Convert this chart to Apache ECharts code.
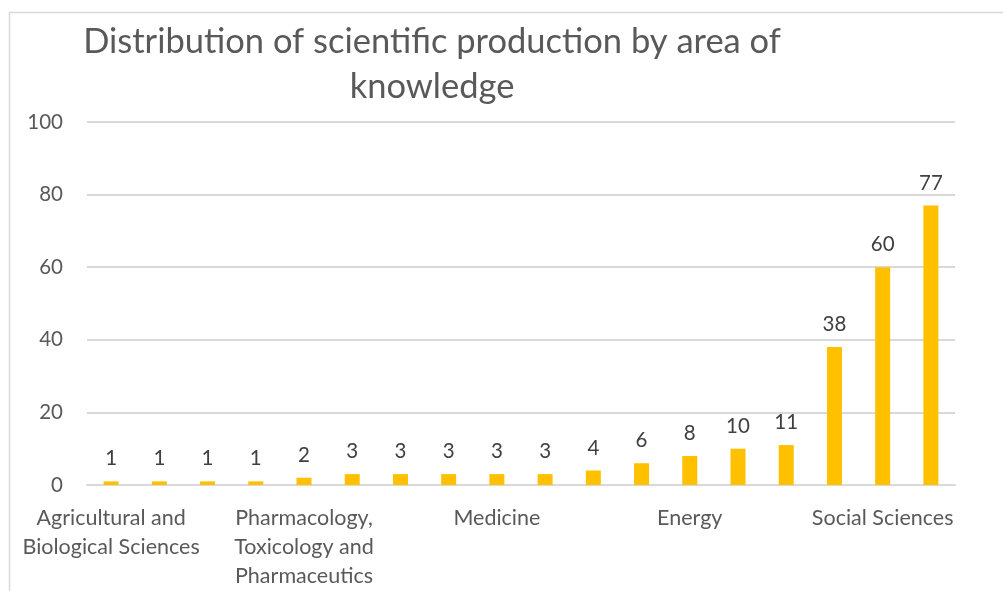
<!DOCTYPE html>
<html>
<head>
<meta charset="utf-8">
<script src="https://cdn.jsdelivr.net/npm/echarts@6/dist/echarts.min.js"></script>
<style>
  html, body { margin: 0; padding: 0; background: #fff; }
  #chart { width: 1003px; height: 591px; }
</style>
</head>
<body>
<div id="chart"></div>
<script>
// areas sorted by number of documents
const areas = [
  'Agricultural and Biological Sciences',
  'Biochemistry, Genetics and Molecular Biology',
  'Chemistry',
  'Earth and Planetary Sciences',
  'Pharmacology, Toxicology and Pharmaceutics',
  'Mathematics',
  'Engineering',
  'Psychology',
  'Medicine',
  'Arts and Humanities',
  'Decision Sciences',
  'Computer Science',
  'Energy',
  'Economics, Econometrics and Finance',
  'Business, Management and Accounting',
  'Environmental Science',
  'Social Sciences',
  'Multidisciplinary',
]
const docs = [1, 1, 1, 1, 2, 3, 3, 3, 3, 3, 4, 6, 8, 10, 11, 38, 60, 77]
const yTicks = { min: 0, max: 100, interval: 20 }

// line breaks as the labels wrap in the original
const wrapped = {
  'Agricultural and Biological Sciences': 'Agricultural and\nBiological Sciences',
  'Pharmacology, Toxicology and Pharmaceutics': 'Pharmacology,\nToxicology and\nPharmaceutics',
}

const FONT = 'Lato, "Open Sans", sans-serif'
const chart = echarts.init(document.getElementById('chart'))

chart.setOption({
  backgroundColor: '#ffffff',
  animation: false,
  textStyle: { fontFamily: FONT },
  title: {
    text: 'Distribution of scientific production by area of\nknowledge',
    left: 427, top: 14, textAlign: 'center',
    textStyle: { fontFamily: FONT, fontSize: 34.5, fontWeight: 'normal', color: '#595959', lineHeight: 45, align: 'center' },
  },
  graphic: [{
    type: 'rect', left: 7, top: 10, silent: true,
    shape: { width: 1100, height: 700 },
    style: { fill: 'none', stroke: '#d9d9d9', lineWidth: 1.5 },
  }],
  grid: { left: 87, right: 48, top: 122, bottom: 102, containLabel: false },
  xAxis: {
    type: 'category', data: areas,
    axisLine: { lineStyle: { color: '#d9d9d9', width: 2 } },
    axisTick: { show: false },
    axisLabel: {
      interval: i => i % 4 === 0, color: '#595959', fontSize: 21.5, fontFamily: FONT,
      margin: 19, lineHeight: 29, hideOverlap: false,
      formatter: v => wrapped[v] || v,
    },
  },
  yAxis: {
    type: 'value', min: yTicks.min, max: yTicks.max, interval: yTicks.interval,
    axisLine: { show: false }, axisTick: { show: false },
    axisLabel: { color: '#595959', fontSize: 20.5, fontFamily: FONT, margin: 24 },
    splitLine: { lineStyle: { color: '#d9d9d9', width: 2 } },
  },
  series: [{
    type: 'bar', data: docs, barWidth: 15,
    itemStyle: { color: '#ffc000' },
    label: { show: true, position: 'top', distance: 12, color: '#404040', fontSize: 20.5, fontFamily: FONT },
  }],
})
</script>
</body>
</html>
